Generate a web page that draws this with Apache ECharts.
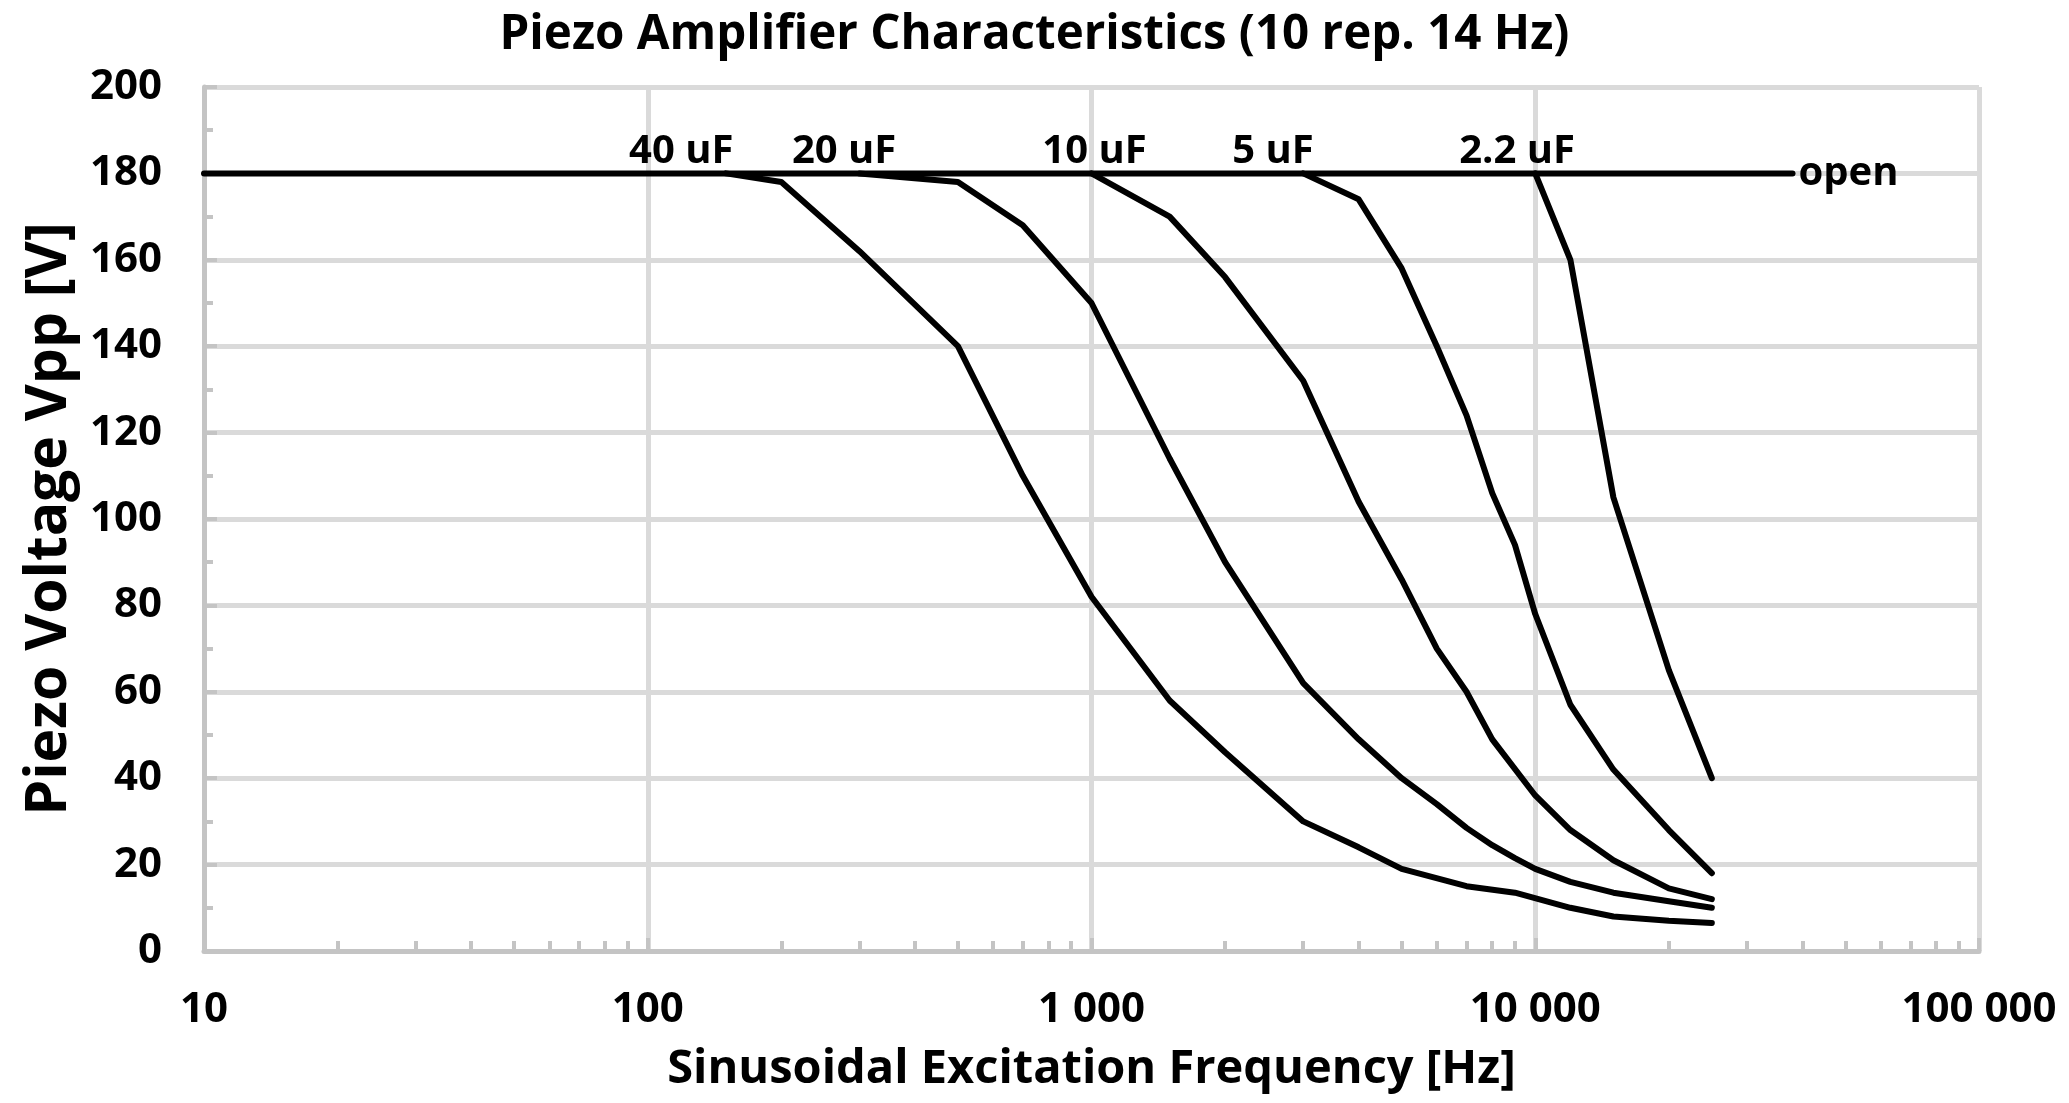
<!DOCTYPE html>
<html><head><meta charset="utf-8">
<script src="https://cdn.jsdelivr.net/npm/echarts@6/dist/echarts.min.js"></script>
<style>html,body{margin:0;padding:0;background:#fff}#c{width:2069px;height:1103px}</style>
</head><body><div id="c"></div>
<script>
const chartTitle = 'Piezo Amplifier Characteristics (10 rep. 14 Hz)';
const xTitle = 'Sinusoidal Excitation Frequency [Hz]';
const yTitle = 'Piezo Voltage Vpp [V]';
const xTicks = [10, 100, 1000, 10000, 100000];
const yTicks = [0, 20, 40, 60, 80, 100, 120, 140, 160, 180, 200];

const freqOpen = [10, 38000];
const voltOpen = [180, 180];
const freq40 = [150, 200, 300, 500, 700, 1000, 1500, 2000, 3000, 4000, 5000, 7000, 9000, 12000, 15000, 20000, 25000];
const volt40 = [180, 178, 162, 140, 110, 82, 58, 46, 30, 24, 19, 15, 13.5, 10, 8, 7, 6.5];
const freq20 = [300, 500, 700, 1000, 1500, 2000, 3000, 4000, 5000, 6000, 7000, 8000, 9000, 10000, 12000, 15000, 20000, 25000];
const volt20 = [180, 178, 168, 150, 114, 90, 62, 49, 40, 34, 28.5, 24.5, 21.5, 19, 16, 13.5, 11.5, 10];
const freq10 = [1000, 1500, 2000, 3000, 4000, 5000, 6000, 7000, 8000, 10000, 12000, 15000, 20000, 25000];
const volt10 = [180, 170, 156, 132, 104, 86, 70, 60, 49, 36, 28, 21, 14.5, 12];
const freq5 = [3000, 4000, 5000, 6000, 7000, 8000, 9000, 10000, 12000, 15000, 20000, 25000];
const volt5 = [180, 174, 158, 140, 124, 106, 94, 78, 57, 42, 28, 18];
const freq22 = [10000, 12000, 15000, 20000, 25000];
const volt22 = [180, 160, 105, 65, 40];

const capLabels = ['40 uF', '20 uF', '10 uF', '5 uF', '2.2 uF'];
const capLabelFreq = [119, 277, 1016, 2565, 9100];
const capLabelVolt = [180, 180, 180, 180, 180];

const FONT = '"Open Sans", sans-serif';
const pairs = (f, v) => f.map((x, i) => [x, v[i]]);
const fmt = v => String(v).replace(/\B(?=(\d{3})+(?!\d))/g, ' ');

function curve(name, f, v, extra) {
  return Object.assign({
    name, type: 'line', data: pairs(f, v), symbol: 'none', silent: true,
    lineStyle: { color: '#000', width: 6, cap: 'round', join: 'round' }, z: 3
  }, extra || {});
}

const chart = echarts.init(document.getElementById('c'), null, { renderer: 'canvas' });
chart.setOption({
  backgroundColor: '#fff',
  animation: false,
  title: {
    text: chartTitle, left: 'center', top: 6,
    textStyle: { fontFamily: FONT, fontWeight: 'bold', fontSize: 47.5, color: '#000' }
  },
  grid: { left: 204, right: 90, top: 87, bottom: 152, containLabel: false },
  xAxis: {
    type: 'log', logBase: 10, min: xTicks[0], max: xTicks[xTicks.length - 1],
    name: xTitle, nameLocation: 'middle', nameGap: 95,
    nameTextStyle: { fontFamily: FONT, fontWeight: 'bold', fontSize: 47, color: '#000' },
    axisLine: { show: true, lineStyle: { color: '#c4c4c4', width: 5 } },
    axisTick: { show: true, inside: true, length: 13, lineStyle: { color: '#c4c4c4', width: 4 } },
    minorTick: { show: true, splitNumber: 9, length: 10, lineStyle: { color: '#c4c4c4', width: 4 } },
    splitLine: { show: true, lineStyle: { color: '#dadada', width: 5 } },
    axisLabel: { formatter: fmt, margin: 38, fontFamily: FONT, fontWeight: 'bold', fontSize: 42, color: '#000' }
  },
  yAxis: {
    type: 'value', min: yTicks[0], max: yTicks[yTicks.length - 1], interval: yTicks[1] - yTicks[0],
    name: yTitle, nameLocation: 'middle', nameGap: 126,
    nameTextStyle: { fontFamily: FONT, fontWeight: 'bold', fontSize: 57, color: '#000' },
    axisLine: { show: true, lineStyle: { color: '#c4c4c4', width: 5 } },
    axisTick: { show: true, inside: true, length: 13, lineStyle: { color: '#c4c4c4', width: 4 } },
    minorTick: { show: true, splitNumber: 2, length: 9, lineStyle: { color: '#c4c4c4', width: 4 } },
    splitLine: { show: true, lineStyle: { color: '#dadada', width: 5 } },
    axisLabel: { margin: 42, fontFamily: FONT, fontWeight: 'bold', fontSize: 42, color: '#000' }
  },
  series: [
    curve('open', freqOpen, voltOpen, {
      endLabel: { show: true, formatter: 'open', distance: 6, fontFamily: FONT, fontWeight: 'bold', fontSize: 40, color: '#000' }
    }),
    curve('40 uF', freq40, volt40),
    curve('20 uF', freq20, volt20),
    curve('10 uF', freq10, volt10),
    curve('5 uF', freq5, volt5),
    curve('2.2 uF', freq22, volt22),
    {
      name: 'labels', type: 'scatter', symbolSize: 0, silent: true, z: 4,
      itemStyle: { opacity: 1 },
      data: capLabelFreq.map((f, i) => ({ value: [f, capLabelVolt[i]], name: capLabels[i] })),
      label: {
        show: true, position: 'top', distance: 2, formatter: p => p.name, opacity: 1,
        fontFamily: FONT, fontWeight: 'bold', fontSize: 40, color: '#000'
      }
    }
  ]
});
</script>
</body></html>
